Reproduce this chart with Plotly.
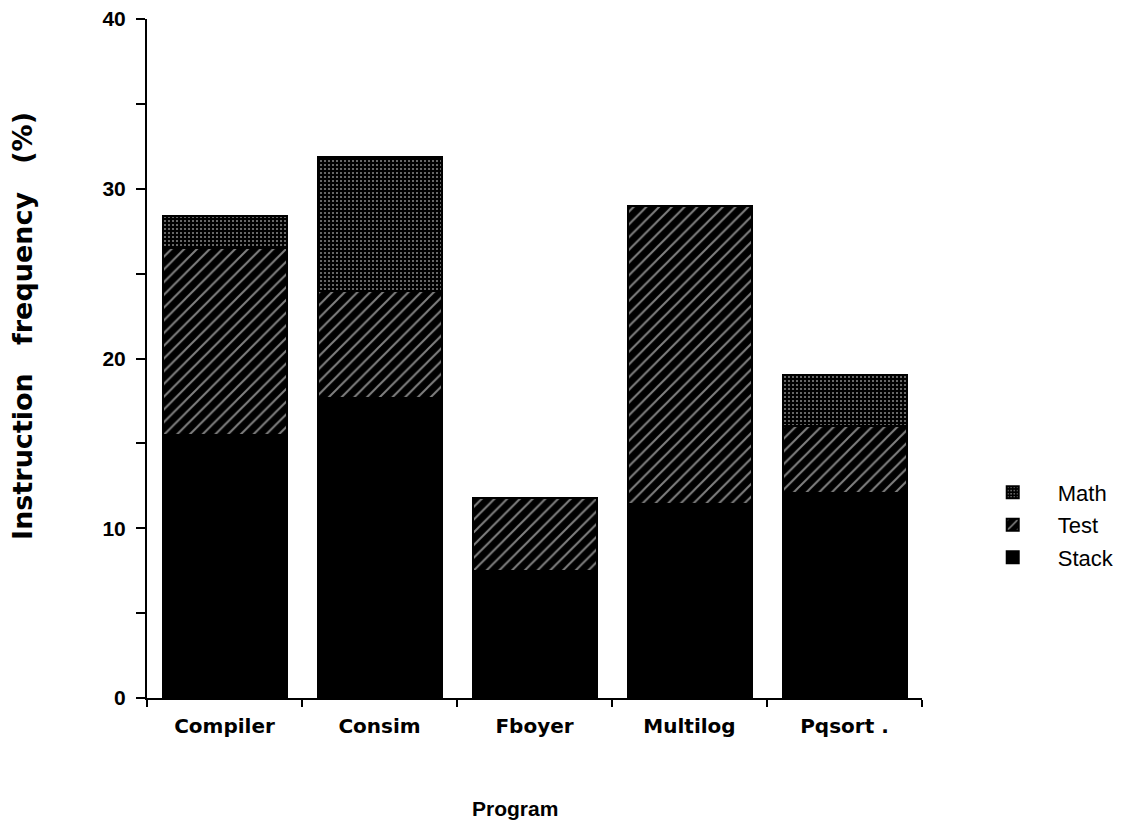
import plotly.graph_objects as go

# Instruction mix per benchmark program (% of executed instructions)
programs = ["Compiler", "Consim", "Fboyer", "Multilog", "Pqsort ."]
stack = [15.5, 17.7, 7.5, 11.4, 12.1]
test = [11.0, 6.3, 4.3, 17.6, 3.9]
math = [1.9, 7.9, 0.0, 0.0, 3.0]

y_ticks = [0, 10, 20, 30, 40]

FONT = "Liberation Sans, Arial, Helvetica, sans-serif"
WIDE = "DejaVu Sans, Liberation Sans, sans-serif"

fig = go.Figure()

fig.add_trace(go.Bar(
    name="Stack", x=programs, y=stack, legendgroup="stack", legendrank=3,
    marker=dict(color="black", line=dict(color="black", width=2)),
))
fig.add_trace(go.Bar(
    name="Test", x=programs, y=test, legendgroup="test", legendrank=2,
    marker=dict(
        color="black",
        line=dict(color="black", width=2),
        pattern=dict(shape="/", fgcolor="white", bgcolor="black",
                     size=9, solidity=0.22, fillmode="overlay"),
    ),
))
fig.add_trace(go.Bar(
    name="Math", x=programs, y=math, legendgroup="math", legendrank=1,
    marker=dict(
        color="black",
        line=dict(color="black", width=2),
        pattern=dict(shape=".", fgcolor="white", bgcolor="black",
                     size=4, solidity=0.22, fillmode="overlay"),
    ),
))

fig.update_layout(
    width=1129, height=834,
    margin=dict(l=147, r=207, t=19, b=136, autoexpand=False),
    barmode="stack",
    bargap=0.2,
    plot_bgcolor="white",
    paper_bgcolor="white",
    font=dict(family=FONT, color="black", size=20),
    legend=dict(
        x=1.059, y=0.255, xanchor="left", yanchor="middle",
        traceorder="grouped",
        font=dict(size=22, family=FONT),
        itemwidth=80,
        tracegroupgap=1,
    ),
    xaxis=dict(
        range=[-0.5, 4.5],
        showline=True, linecolor="black", linewidth=2,
        ticks="outside", tickson="boundaries", ticklen=7, tickwidth=2,
        tickcolor="black",
        tickfont=dict(family=WIDE, size=20, weight="bold"),
        ticklabelstandoff=9,
        showgrid=False, zeroline=False,
    ),
    yaxis=dict(
        range=[0, 40],
        tickvals=y_ticks,
        showline=True, linecolor="black", linewidth=2,
        ticks="outside", ticklen=9, tickwidth=2, tickcolor="black",
        minor=dict(dtick=5, ticks="outside", ticklen=9, tickwidth=2,
                   tickcolor="black"),
        tickfont=dict(family=FONT, size=21, weight="bold"),
        ticklabelstandoff=6,
        showgrid=False, zeroline=False,
    ),
    annotations=[
        dict(
            text="Instruction&nbsp;&nbsp;&nbsp;frequency&nbsp;&nbsp;&nbsp;(%)",
            textangle=-90,
            xref="paper", yref="paper",
            x=-0.16, y=0.548, xanchor="center", yanchor="middle",
            showarrow=False,
            font=dict(family=WIDE, size=27, weight="bold"),
        ),
        dict(
            text="Program",
            xref="paper", yref="paper",
            x=0.475, y=-0.163, xanchor="center", yanchor="middle",
            showarrow=False,
            font=dict(family=FONT, size=21, weight="bold"),
        ),
    ],
)

fig.write_html("out.html")
